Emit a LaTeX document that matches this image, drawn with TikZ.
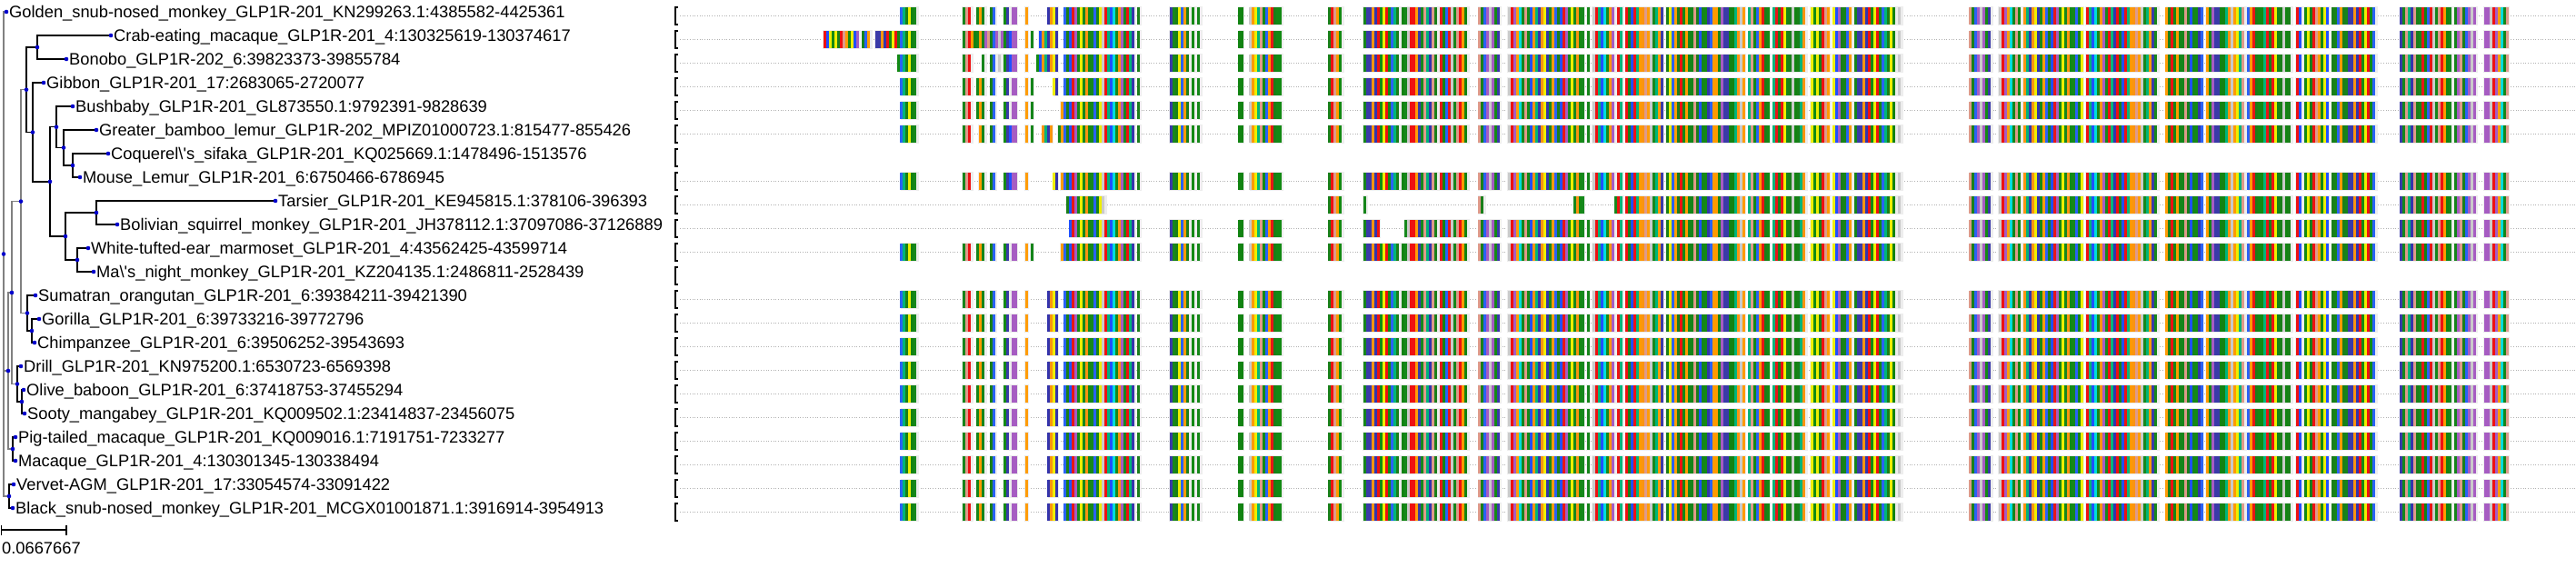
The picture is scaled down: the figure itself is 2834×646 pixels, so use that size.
\documentclass[tikz,border=0pt]{standalone}
\usepackage{fontspec}
\setmainfont{Liberation Sans}
\usetikzlibrary{calc}

\definecolor{res0}{HTML}{15851A}
\definecolor{res1}{HTML}{138A14}
\definecolor{res2}{HTML}{1A7F1A}
\definecolor{res3}{HTML}{16881C}
\definecolor{res4}{HTML}{128312}
\definecolor{res5}{HTML}{1F50FF}
\definecolor{res6}{HTML}{2A62F5}
\definecolor{res7}{HTML}{3434AC}
\definecolor{res8}{HTML}{3A3AA8}
\definecolor{res9}{HTML}{FF9A00}
\definecolor{res10}{HTML}{FA9410}
\definecolor{res11}{HTML}{FF9C08}
\definecolor{res12}{HTML}{EE1111}
\definecolor{res13}{HTML}{E81616}
\definecolor{res14}{HTML}{EEEE00}
\definecolor{res15}{HTML}{00DCDC}
\definecolor{res16}{HTML}{00B47A}
\definecolor{res17}{HTML}{DE9A8A}
\definecolor{res18}{HTML}{CACACA}
\definecolor{res19}{HTML}{A65CC2}

\begin{document}
\begin{tikzpicture}[x=1pt,y=-1pt,
  branch/.style={line width=1.3pt,black},
  gbranch/.style={line width=1.5pt,black!50},
  nodedot/.style={fill=blue!80!black},
  leaflabel/.style={anchor=base west,inner sep=0pt,xshift=3pt,yshift=-6.5pt,
    font=\fontsize{18.3}{20}\selectfont},
  scalelabel/.style={anchor=base west,inner sep=0pt,font=\fontsize{18.3}{20}\selectfont},
  rowtick/.style={line width=1.2pt,black},
  rowline/.style={black!30,dotted,line width=0.7pt},
  blockhalo/.style={fill=black!7}]
\useasboundingbox (0,0) rectangle (2834,646);

% one alignment row: #1 row number, #2 list of from/to pixel ranges
\newcommand\alnrow[2]{%
  \pgfmathsetmacro\rtop{8+26*(#1-1)}
  \foreach \a/\b in #2 {
    \fill[blockhalo] (\a-1,\rtop-1) rectangle (\b+1,\rtop+20);
    \pgfmathtruncatemacro\ka{\a/3}
    \pgfmathtruncatemacro\kb{\b/3-1}
    \foreach \k in {\ka,...,\kb} {
      \pgfmathtruncatemacro\ci{mod(floor(abs(sin(13*\k)*1000+cos(7*\k)*700)),20)}
      \fill[res\ci] (3*\k,\rtop) rectangle ++(3.1,19);
    }
  }}
\newcommand\fullrow[2]{\alnrow{#1}{#2}\alnrow{#1}{\coreA}\alnrow{#1}{\coreB}\alnrow{#1}{\coreC}\alnrow{#1}{\tailblk}}

\newcommand\stdhead{992/1010,1059/1070,1076/1085,1090/1096,1105/1111,1113/1119,1128/1131,1154/1158,1160/1164}
\newcommand\crabhead{906/946,949/959,963/1010,1059/1119,1128/1131,1134/1137,1143/1158,1160/1164}
\newcommand\bonobohead{989/1010,1059/1070,1082/1085,1091/1097,1099/1103,1105/1119,1128/1131,1142/1158,1160/1164}
\newcommand\gibbonhead{992/1010,1059/1070,1076/1085,1090/1096,1105/1111,1113/1119,1128/1131,1134/1137,1160/1164}
\newcommand\lemurhead{992/1010,1059/1070,1076/1085,1090/1096,1105/1111,1113/1119,1128/1131,1134/1137,1167/1171}
\newcommand\bamboohead{992/1010,1059/1070,1077/1085,1090/1096,1105/1119,1128/1131,1134/1137,1148/1158,1164/1171}
\newcommand\mousehead{992/1010,1059/1070,1077/1085,1090/1096,1105/1119,1128/1131,1160/1164,1167/1171}
\newcommand\coreA{1171/1242,1244/1249,1252/1255,1287/1310,1313/1316,1319/1322,1364/1368,1376/1411,1462/1478}
\newcommand\coreB{1500/1541,1543/1582,1584/1616,1627/1651}
\newcommand\coreC{1659/1671,1673/1743,1746/1749,1752/1761,1763/1767,1769/1778,1780/1786,1789/1830,1833/1920,1925/1948,1951/1988,1992/2014,2017/2038,2040/2087,2089/2093}
\newcommand\tailblk{2168/2192,2199/2225,2227/2286,2288/2292,2295/2375,2384/2424,2427/2471,2474/2522,2526/2534,2537/2563,2566/2615,2641/2699,2701/2725,2733/2760}
\newcommand\tarsierblk{1174/1217,1462/1478,1500/1504,1627/1634,1732/1743,1778/1786,1789/1830,1833/1920,1925/1948,1951/1988,1992/2014,2017/2038,2040/2087,2089/2093}
\newcommand\squirrelblk{1177/1242,1244/1249,1252/1255,1287/1310,1313/1316,1319/1322,1364/1368,1376/1411,1462/1478,1500/1518,1546/1582,1584/1616,1627/1651}

% tree
\coordinate (golden) at (7,13);
\coordinate (crab) at (122,39);
\coordinate (bonobo) at (73,65);
\coordinate (gibbon) at (48,91);
\coordinate (bushbaby) at (80,117);
\coordinate (bamboo) at (106,143);
\coordinate (sifaka) at (119,169);
\coordinate (mouselemur) at (88,195);
\coordinate (tarsier) at (303,221);
\coordinate (squirrel) at (129,247);
\coordinate (marmoset) at (97,273);
\coordinate (nightmonkey) at (103,299);
\coordinate (orangutan) at (39,325);
\coordinate (gorilla) at (43,351);
\coordinate (chimp) at (38,377);
\coordinate (drill) at (23,403);
\coordinate (baboon) at (26,429);
\coordinate (mangabey) at (27,455);
\coordinate (pigtail) at (17,481);
\coordinate (macaque) at (17,507);
\coordinate (vervet) at (15,533);
\coordinate (blacksnub) at (14,559);

\coordinate (nCB) at (41,52);
\coordinate (nSM) at (80,182);
\coordinate (nBSM) at (70,162.5);
\coordinate (nBB) at (62,139.8);
\coordinate (nTS) at (106,234);
\coordinate (nMN) at (85,286);
\coordinate (nNW) at (72,260);
\coordinate (nStrep) at (55,199.9);
\coordinate (nGib) at (36,145.5);
\coordinate (nUp) at (29,98.7);
\coordinate (nGC) at (35,364);
\coordinate (nApe) at (30,344.5);
\coordinate (nK) at (23,221.6);
\coordinate (nOS) at (24,442);
\coordinate (nDOS) at (19,422.5);
\coordinate (nM) at (13,322);
\coordinate (nPM) at (14,494);
\coordinate (nN) at (9,408);
\coordinate (nVB) at (10,546);
\coordinate (root) at (4,279.5);

\foreach \p/\c in {root/golden,root/nN,root/nVB,nN/nM,nN/nPM,nM/nK,nM/nDOS,nK/nUp,nK/nApe}
  \draw[gbranch] (\p) |- (\c);
\foreach \p/\c in {nUp/nCB,nUp/nGib,nCB/crab,nCB/bonobo,nGib/gibbon,nGib/nStrep,
    nStrep/nBB,nStrep/nNW,nBB/bushbaby,nBB/nBSM,nBSM/bamboo,nBSM/nSM,nSM/sifaka,
    nSM/mouselemur,nNW/nTS,nNW/nMN,nTS/tarsier,nTS/squirrel,nMN/marmoset,
    nMN/nightmonkey,nApe/orangutan,nApe/nGC,nGC/gorilla,nGC/chimp,nDOS/drill,
    nDOS/nOS,nOS/baboon,nOS/mangabey,nPM/pigtail,nPM/macaque,nVB/vervet,nVB/blacksnub}
  \draw[branch] (\p) |- (\c);
\foreach \n in {golden,crab,bonobo,gibbon,bushbaby,bamboo,sifaka,mouselemur,tarsier,
    squirrel,marmoset,nightmonkey,orangutan,gorilla,chimp,drill,baboon,mangabey,
    pigtail,macaque,vervet,blacksnub,nCB,nSM,nBSM,nBB,nTS,nMN,nNW,nStrep,nGib,nUp,
    nGC,nApe,nK,nOS,nDOS,nM,nPM,nN,nVB,root}
  \fill[nodedot] (\n) circle (2.3);

\node[leaflabel] (goldenlbl) at (golden) {Golden\_snub-nosed\_monkey\_GLP1R-201\_KN299263.1:4385582-4425361};
\node[leaflabel] (crablbl) at (crab) {Crab-eating\_macaque\_GLP1R-201\_4:130325619-130374617};
\node[leaflabel] (bonobolbl) at (bonobo) {Bonobo\_GLP1R-202\_6:39823373-39855784};
\node[leaflabel] (gibbonlbl) at (gibbon) {Gibbon\_GLP1R-201\_17:2683065-2720077};
\node[leaflabel] (bushbabylbl) at (bushbaby) {Bushbaby\_GLP1R-201\_GL873550.1:9792391-9828639};
\node[leaflabel] (bamboolbl) at (bamboo) {Greater\_bamboo\_lemur\_GLP1R-202\_MPIZ01000723.1:815477-855426};
\node[leaflabel] (sifakalbl) at (sifaka) {Coquerel\textbackslash\textquotesingle s\_sifaka\_GLP1R-201\_KQ025669.1:1478496-1513576};
\node[leaflabel] (mouselemurlbl) at (mouselemur) {Mouse\_Lemur\_GLP1R-201\_6:6750466-6786945};
\node[leaflabel] (tarsierlbl) at (tarsier) {Tarsier\_GLP1R-201\_KE945815.1:378106-396393};
\node[leaflabel] (squirrellbl) at (squirrel) {Bolivian\_squirrel\_monkey\_GLP1R-201\_JH378112.1:37097086-37126889};
\node[leaflabel] (marmosetlbl) at (marmoset) {White-tufted-ear\_marmoset\_GLP1R-201\_4:43562425-43599714};
\node[leaflabel] (nightmonkeylbl) at (nightmonkey) {Ma\textbackslash\textquotesingle s\_night\_monkey\_GLP1R-201\_KZ204135.1:2486811-2528439};
\node[leaflabel] (orangutanlbl) at (orangutan) {Sumatran\_orangutan\_GLP1R-201\_6:39384211-39421390};
\node[leaflabel] (gorillalbl) at (gorilla) {Gorilla\_GLP1R-201\_6:39733216-39772796};
\node[leaflabel] (chimplbl) at (chimp) {Chimpanzee\_GLP1R-201\_6:39506252-39543693};
\node[leaflabel] (drilllbl) at (drill) {Drill\_GLP1R-201\_KN975200.1:6530723-6569398};
\node[leaflabel] (baboonlbl) at (baboon) {Olive\_baboon\_GLP1R-201\_6:37418753-37455294};
\node[leaflabel] (mangabeylbl) at (mangabey) {Sooty\_mangabey\_GLP1R-201\_KQ009502.1:23414837-23456075};
\node[leaflabel] (pigtaillbl) at (pigtail) {Pig-tailed\_macaque\_GLP1R-201\_KQ009016.1:7191751-7233277};
\node[leaflabel] (macaquelbl) at (macaque) {Macaque\_GLP1R-201\_4:130301345-130338494};
\node[leaflabel] (vervetlbl) at (vervet) {Vervet-AGM\_GLP1R-201\_17:33054574-33091422};
\node[leaflabel] (blacksnublbl) at (blacksnub) {Black\_snub-nosed\_monkey\_GLP1R-201\_MCGX01001871.1:3916914-3954913};

% scale bar
\coordinate (sbL) at (1.5,583);
\coordinate (sbR) at (73,583);
\draw[branch] (sbL) -- (sbR);
\draw[branch] ($(sbL)+(0,-5.5)$) -- ($(sbL)+(0,5.5)$);
\draw[branch] ($(sbR)+(0,-5.5)$) -- ($(sbR)+(0,5.5)$);
\node[scalelabel] (sblbl) at (2,609) {0.0667667};

% alignment
\foreach \r in {1,2,3,4,5,6,8,9,10,11,13,14,15,16,17,18,19,20,21,22}
  \draw[rowline] (748,17.5+26*\r-26) -- (2834,17.5+26*\r-26);
\foreach \r in {1,13,14,15,16,17,18,19,20,21,22} {\fullrow{\r}{\stdhead}}
\fullrow{2}{\crabhead}
\fullrow{3}{\bonobohead}
\fullrow{4}{\gibbonhead}
\fullrow{5}{\lemurhead}
\fullrow{6}{\bamboohead}
\fullrow{8}{\mousehead}
\fullrow{11}{\lemurhead}
\alnrow{9}{\tarsierblk}
\alnrow{9}{\tailblk}
\alnrow{10}{\squirrelblk}
\alnrow{10}{\coreC}
\alnrow{10}{\tailblk}

\foreach \r in {1,...,22}
  \draw[rowtick] (745.5,8+26*\r-26) -- (743,8+26*\r-26) -- (743,27+26*\r-26) -- (745.5,27+26*\r-26);
\foreach \r in {7,12}
  \draw[rowtick,line width=2.6pt] (743,8+26*\r-26) -- (743,27+26*\r-26);
\end{tikzpicture}
\end{document}
